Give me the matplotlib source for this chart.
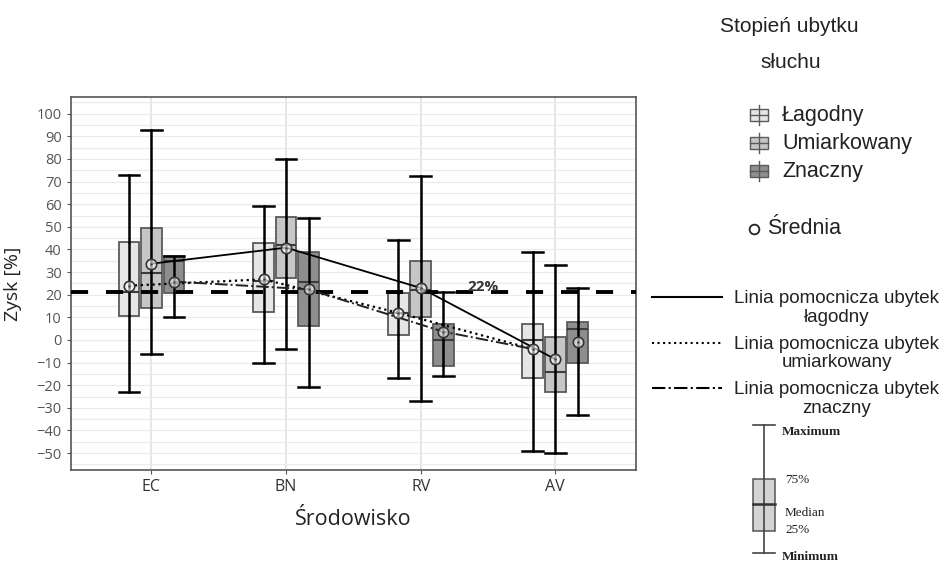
import matplotlib.pyplot as plt
import numpy as np
from matplotlib.patches import Rectangle

# data
categories = ["EC", "BN", "RV", "AV"]
groups = ["Łagodny", "Umiarkowany", "Znaczny"]
group_colors = ["#e6e6e6", "#c6c6c6", "#8e8e8e"]

whisker_max = [[73, 59, 44, 39], [93, 80, 72.5, 33], [37, 54, 21, 23]]
q3 = [[43.5, 42.7, 20.6, 7], [49.4, 54.4, 35.1, 1.2], [37, 38.8, 7, 8]]
median = [[21, 26, 12, 0], [29.6, 42, 22, -14.3], [35, 25.8, 0, 5]]
q1 = [[10.7, 12.2, 2, -17], [14, 27.3, 10.3, -23], [20.6, 6.3, -11.4, -10]]
whisker_min = [[-23, -10, -17, -49], [-6, -4, -27, -50], [10, -21, -16, -33]]
means = [[24, 26.8, 12, -4], [33.7, 40.8, 23, -8.5], [25.8, 22.4, 3.7, -1]]

# helper lines: (category index, group index) of the means they pass through
line_solid = [(0, 1), (1, 1), (2, 1), (3, 1)]
line_dotted = [(0, 0), (1, 0), (2, 0), (3, 0)]
line_dashdot = [(0, 2), (1, 2), (2, 2), (3, 0)]

threshold = 21
threshold_label = "22%"

fig = plt.figure(figsize=(9.44, 5.65), dpi=100)
ax = fig.add_axes([0.0749, 0.168, 0.5988, 0.6608])

x = np.arange(1, len(categories) + 1)
offsets = [-0.167, 0.0, 0.167]
bw = 0.155

for g in range(len(groups)):
    pos = x + offsets[g]
    stats = [dict(med=median[g][i], q1=q1[g][i], q3=q3[g][i],
                  whislo=whisker_min[g][i], whishi=whisker_max[g][i], fliers=[])
             for i in range(len(categories))]
    ax.bxp(stats, positions=pos, widths=bw, capwidths=bw, patch_artist=True,
           showfliers=False, manage_ticks=False, zorder=3,
           boxprops=dict(facecolor=group_colors[g], edgecolor="#5a5a5a", linewidth=1.3),
           whiskerprops=dict(color="black", linewidth=1.8),
           capprops=dict(color="black", linewidth=1.8),
           medianprops=dict(color="#3c3c3c", linewidth=1.5))
    ax.vlines(pos, q1[g], q3[g], color="black", lw=1.8, zorder=3.5)


def pts(spec):
    return ([x[c] + offsets[g] for c, g in spec], [means[g][c] for c, g in spec])


ax.plot(*pts(line_solid), color="black", lw=1.3, zorder=5)
ax.plot(*pts(line_dotted), color="black", lw=1.6, ls=":", zorder=5)
ax.plot(*pts(line_dashdot), color="#222222", lw=1.4, ls="-.", zorder=5)

for g in range(len(groups)):
    pos = x + offsets[g]
    ax.plot(pos, means[g], "o", ms=7.5, mfc=(1, 1, 1, 0.6), mec="#333333", mew=1.2, zorder=6)
    ax.plot(pos, means[g], ".", ms=1.5, color="#444444", zorder=7)

ax.axhline(threshold, color="black", lw=2.8, dashes=(4.4, 4.6), zorder=4)
ax.text(3.46, threshold + 0.6, threshold_label, ha="center", va="baseline",
        fontsize=11, fontweight="bold", color="#333333", zorder=7, family="Open Sans")

ax.set_xlim(0.4, 4.6)
ax.set_ylim(-57.5, 107.5)
ax.set_xticks(x)
ax.set_xticklabels(categories, fontsize=11.5, color="#333333", family="Open Sans")
ax.set_yticks(np.arange(-50, 101, 10))
ax.set_yticks(np.arange(-55, 106, 5), minor=True)
ax.tick_params(axis="y", labelsize=10.5, labelcolor="#555555", color="#555555", length=3)
ax.tick_params(axis="x", color="#555555", length=3)
ax.tick_params(which="minor", length=0)
for lab in ax.get_yticklabels():
    lab.set_family("Open Sans")
ax.grid(axis="y", which="both", color="#ebebeb", lw=0.9, zorder=0)
ax.grid(axis="x", which="major", color="#e4e4e4", lw=1.3, zorder=0)
ax.set_axisbelow(True)
for s in ax.spines.values():
    s.set_color("#555555")
    s.set_linewidth(1.2)

ax.set_ylabel("Zysk [%]", fontsize=14, family="Open Sans", color="#222222")
ax.yaxis.set_label_coords(-0.086, 0.5)
ax.set_xlabel("Środowisko", fontsize=15.5, family="Open Sans", color="#222222")
ax.xaxis.set_label_coords(0.5, -0.105)

# right-hand legend drawn in pixel space
lg = fig.add_axes([0, 0, 1, 1])
lg.set_xlim(0, 944)
lg.set_ylim(565, 0)
lg.axis("off")
lg.patch.set_alpha(0)

sans = "Liberation Sans"
lg.text(789, 26, "Stopień ubytku", ha="center", va="center", fontsize=15, family=sans, color="#222222")
lg.text(791, 63, "słuchu", ha="center", va="center", fontsize=15, family=sans, color="#222222")

for i, (name, col) in enumerate(zip(groups, group_colors)):
    cy = 115 + i * 28
    lg.plot([759, 759], [cy - 10, cy + 10], color="#5a5a5a", lw=1)
    lg.add_patch(Rectangle((750, cy - 6), 18, 12, fc=col, ec="#5a5a5a", lw=1))
    lg.plot([750, 768], [cy, cy], color="#5a5a5a", lw=1)
    lg.text(782, cy, name, ha="left", va="center", fontsize=15.5, family=sans, color="#222222")

lg.plot([754], [229], "o", ms=7, mfc="white", mec="#222222", mew=1.3)
lg.text(767, 228, "Średnia", ha="left", va="center", fontsize=15.5, family=sans, color="#222222")

helper_texts = ["Linia pomocnicza ubytek\nłagodny",
                "Linia pomocnicza ubytek\numiarkowany",
                "Linia pomocnicza ubytek\nznaczny"]
helper_styles = ["-", ":", "-."]
for i, (txt, ls) in enumerate(zip(helper_texts, helper_styles)):
    cy = 297 + i * 45.5
    lg.plot([652, 722], [cy, cy], color="black", lw=1.5, ls=ls)
    lg.text(837, cy + 11, txt, ha="center", va="center", multialignment="center",
            fontsize=13.5, family=sans, color="#222222", linespacing=1.15)

# boxplot explanation
lg.plot([764, 764], [425, 553], color="#444444", lw=1.2)
lg.plot([753, 775], [425, 425], color="#444444", lw=1.2)
lg.plot([753, 775], [553, 553], color="#444444", lw=1.2)
lg.add_patch(Rectangle((753, 479), 22, 52, fc="#d3d3d3", ec="#555555", lw=1.1))
lg.plot([753, 775], [504, 504], color="#333333", lw=1.8)
serif = "Liberation Serif"
lg.text(782, 432, "Maximum", ha="left", va="center", fontsize=9.5, fontweight="bold", family=serif, color="#222222")
lg.text(785, 480, "75%", ha="left", va="center", fontsize=9.5, family=serif, color="#222222")
lg.text(785, 513, "Median", ha="left", va="center", fontsize=9.5, family=serif, color="#222222")
lg.text(785, 530, "25%", ha="left", va="center", fontsize=9.5, family=serif, color="#222222")
lg.text(782, 557, "Minimum", ha="left", va="center", fontsize=9.5, fontweight="bold", family=serif, color="#222222")

fig.savefig("out.png", dpi=100)
